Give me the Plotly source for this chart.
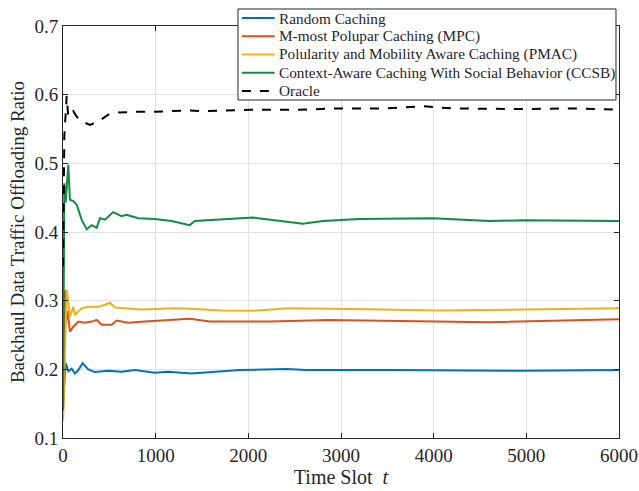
import plotly.graph_objects as go

# Time slots and series values
t_random = [1, 14, 29, 57, 93, 129, 165, 212, 273, 345, 489, 632, 776, 991, 1135, 1386,
            1907, 2410, 2625, 3523, 4960, 6000]
v_random = [0.150, 0.185, 0.209, 0.197, 0.201, 0.194, 0.199, 0.209, 0.200, 0.196, 0.198, 0.1965,
            0.199, 0.195, 0.1965, 0.1938, 0.199, 0.2006, 0.199, 0.199, 0.198, 0.199]

t_mpc = [1, 20, 30, 50, 75, 111, 165, 237, 309, 363, 417, 525, 578, 704, 884, 1099, 1369,
         1584, 2231, 2877, 4600, 6000]
v_mpc = [0.140, 0.316, 0.268, 0.285, 0.255, 0.262, 0.2695, 0.268, 0.2695, 0.272, 0.265, 0.265,
         0.271, 0.268, 0.2695, 0.271, 0.2735, 0.2696, 0.2696, 0.272, 0.2685, 0.273]

t_pmac = [1, 40, 75, 111, 129, 165, 201, 273, 381, 453, 507, 560, 704, 848, 991, 1207, 1422,
          1720, 2043, 2438, 3300, 4054, 6000]
v_pmac = [0.125, 0.316, 0.277, 0.291, 0.279, 0.2835, 0.289, 0.291, 0.291, 0.294, 0.297, 0.290,
          0.289, 0.287, 0.288, 0.289, 0.288, 0.2856, 0.2852, 0.289, 0.2876, 0.2856, 0.289]

t_ccsb = [1, 14, 29, 57, 75, 111, 147, 201, 255, 309, 363, 399, 453, 542, 632, 686, 812, 991,
          1171, 1368, 1422, 1835, 2051, 2590, 2805, 3200, 3990, 4601, 4960, 6000]
v_ccsb = [0.140, 0.471, 0.443, 0.498, 0.447, 0.445, 0.440, 0.418, 0.404, 0.410, 0.406, 0.420,
          0.418, 0.429, 0.423, 0.425, 0.420, 0.419, 0.416, 0.410, 0.416, 0.419, 0.421, 0.412,
          0.416, 0.419, 0.420, 0.416, 0.417, 0.416]

t_oracle = [1, 14, 40, 57, 111, 147, 201, 291, 381, 489, 596, 776, 991, 1347, 1500, 2000, 2500,
            3000, 3500, 3900, 4200, 5000, 5500, 6000]
v_oracle = [0.350, 0.539, 0.598, 0.568, 0.576, 0.568, 0.561, 0.556, 0.561, 0.571, 0.574, 0.575,
            0.575, 0.577, 0.576, 0.578, 0.578, 0.580, 0.580, 0.583, 0.580, 0.579, 0.580, 0.578]

names = ["Random Caching", "M-most Polupar Caching (MPC)",
         "Polularity and Mobility Aware Caching (PMAC)",
         "Context-Aware Caching With Social Behavior (CCSB)", "Oracle"]

x_ticks = [0, 1000, 2000, 3000, 4000, 5000, 6000]
y_ticks = [0.1, 0.2, 0.3, 0.4, 0.5, 0.6, 0.7]

series = [(t_random, v_random, "#0072BD", "solid"),
          (t_mpc, v_mpc, "#D95319", "solid"),
          (t_pmac, v_pmac, "#EDB120", "solid"),
          (t_ccsb, v_ccsb, "#138A43", "solid"),
          (t_oracle, v_oracle, "#000000", "dash")]

fig = go.Figure()
for (tx, vy, col, dash), nm in zip(series, names):
    fig.add_trace(go.Scatter(x=tx, y=vy, mode="lines", name=nm, showlegend=False,
                             line=dict(color=col, width=2, dash=dash)))

font_family = "Liberation Serif"
ink = "#262626"

# Legend drawn as a boxed key (paper coordinates)
lg_x0, lg_x1, lg_y0, lg_y1 = 0.3147, 0.9946, 0.8204, 1.0413
row_h = (lg_y1 - lg_y0) / 5.0
shapes = [dict(type="rect", xref="paper", yref="paper", x0=lg_x0, x1=lg_x1, y0=lg_y0, y1=lg_y1,
               line=dict(color=ink, width=1), fillcolor="white", layer="above")]
annotations = []
for i, ((tx, vy, col, dash), nm) in enumerate(zip(series, names)):
    yc = lg_y1 - row_h * (i + 0.5)
    shapes.append(dict(type="line", xref="paper", yref="paper", x0=lg_x0 + 0.007,
                       x1=lg_x0 + 0.066, y0=yc, y1=yc, layer="above",
                       line=dict(color=col, width=2, dash=dash)))
    annotations.append(dict(xref="paper", yref="paper", x=lg_x0 + 0.071, y=yc,
                            xanchor="left", yanchor="middle", text=nm, showarrow=False,
                            font=dict(family=font_family, size=15.3, color=ink)))

axis_common = dict(showline=True, linecolor=ink, linewidth=1, mirror="ticks",
                   ticks="inside", ticklen=5, tickcolor=ink,
                   showgrid=True, gridcolor="#e3e3e3", gridwidth=1, zeroline=False,
                   automargin=False,
                   tickfont=dict(family=font_family, size=19, color=ink))

fig.update_layout(
    width=639, height=491,
    margin=dict(l=63, r=20, t=26, b=53, autoexpand=False),
    paper_bgcolor="white", plot_bgcolor="white",
    font=dict(family=font_family, color=ink),
    xaxis=dict(range=[0, 6000], tickvals=x_ticks, ticktext=[str(v) for v in x_ticks],
               title=dict(text="Time Slot  <i>t</i>", font=dict(size=20), standoff=2),
               **axis_common),
    yaxis=dict(range=[0.1, 0.7], tickvals=y_ticks, ticktext=[f"{v:.1f}" for v in y_ticks],
               title=dict(text="Backhaul Data Traffic Offloading Ratio", font=dict(size=19),
                          standoff=4),
               **axis_common),
    shapes=shapes,
    annotations=annotations,
    showlegend=False,
)

fig.write_html("out.html", config={"displayModeBar": False},
               post_script="document.body.style.margin='0';")
